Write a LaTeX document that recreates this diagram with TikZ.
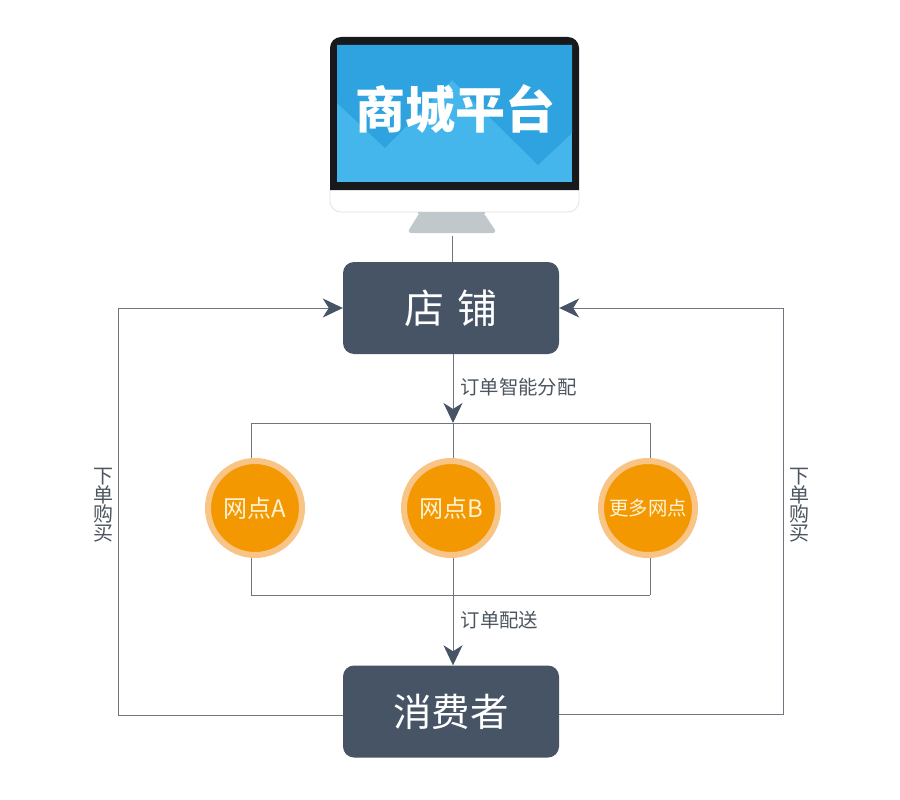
\documentclass[tikz,border=0pt]{standalone}
\usepackage{fontspec}
\setmainfont{Noto Sans CJK SC}
\usetikzlibrary{arrows.meta,positioning}
\definecolor{slate}{HTML}{465466}
\definecolor{wire}{HTML}{70767E}
\definecolor{ink}{HTML}{4C5560}
\definecolor{sitefill}{HTML}{F39800}
\definecolor{sitering}{HTML}{F8C586}
\definecolor{sitetext}{HTML}{FFF3D6}
\definecolor{screendark}{HTML}{2EA3E0}
\definecolor{screenlight}{HTML}{44B6EC}
\definecolor{bezel}{HTML}{17191C}
\definecolor{base}{HTML}{C0C8CC}

\begin{document}
\begin{tikzpicture}[x=1pt,y=-1pt,
    box/.style={rectangle, rounded corners=11pt, fill=slate, text=white, minimum width=216pt, minimum height=92pt, inner sep=0pt},
    site/.style={circle, fill=sitefill, draw=sitering, line width=6pt, minimum size=94pt, inner sep=0pt, text=sitetext, font=\fontsize{24}{24}\selectfont},
    wireline/.style={draw=wire, line width=1pt},
    flow/.style={wireline, -{Stealth[length=20pt,width=19pt,inset=6pt,color=slate]}},
    tag/.style={text=ink, font=\fontsize{19.4}{19.4}\selectfont, inner sep=0pt},
    sidetag/.style={text=ink, font=\fontsize{20}{19}\selectfont, align=center, inner sep=0pt}]

    \useasboundingbox (0,0) rectangle (900,800);
    \fill[white] (0,0) rectangle (900,800);

    \draw[black!12, line width=.7pt, rounded corners=11pt] (330,190) -- (330,212) -- (579,212) -- (579,190);
    \fill[bezel, rounded corners=11pt] (330,190) -- (330,37) -- (579,37) -- (579,190);
    \fill[screenlight] (337,45) rectangle (572,182);
    \fill[screendark] (337,45) -- (572,45) -- (572,133) -- (538,165) -- (452,80) -- (385,148) -- (337,103) -- cycle;
    \fill[base, rounded corners=4pt] (420,212) -- (483,212) -- (497,233) -- (407,233) -- cycle;
    \fill[base] (418,212) rectangle (485,214);

    \node (platform) at (455,109) {\fontsize{50}{50}\selectfont\bfseries\textcolor{white}{商城平台}};
    \coordinate (stand) at (452,236);

    \node[box, font=\fontsize{40}{40}\selectfont] (shop) at (451,308) {店\,\,铺};
    \node[box, font=\fontsize{38.5}{38.5}\selectfont] (consumer) at (451,711.5) {消费者};

    \node[site] (siteA) at (255,508) {网点A};
    \node[site] (siteB) at (451,508) {网点B};
    \node[site, font=\fontsize{19.4}{19.4}\selectfont] (siteC) at (648,508) {更多网点};

    \coordinate (topjoin) at (453,423);
    \coordinate (topleft) at (251,423);
    \coordinate (topright) at (650,423);
    \coordinate (lowjoin) at (453,595);
    \coordinate (lowleft) at (251,595);
    \coordinate (lowright) at (650,595);
    \coordinate (leftup) at (118,308);
    \coordinate (leftdown) at (118,715);
    \coordinate (rightup) at (783,308);
    \coordinate (rightdown) at (783,714);

    \draw[wireline] (stand) -- (stand |- shop.north);
    \draw[flow] (topjoin |- shop.south) -- (topjoin);
    \draw[wireline] (topleft) -- (topright);
    \draw[wireline] (topleft) -- (topleft |- siteA.north);
    \draw[wireline] (topjoin) -- (topjoin |- siteB.north);
    \draw[wireline] (topright) -- (topright |- siteC.north);
    \draw[wireline] (lowleft) -- (lowright);
    \draw[wireline] (lowleft) -- (lowleft |- siteA.south);
    \draw[wireline] (lowright) -- (lowright |- siteC.south);
    \draw[wireline] (lowjoin |- siteB.south) -- (lowjoin);
    \draw[flow] (lowjoin) -- (lowjoin |- consumer.north);
    \draw[flow] (consumer.west |- leftdown) -- (leftdown) -- (leftup) -- (shop.west);
    \draw[flow] (consumer.east |- rightdown) -- (rightdown) -- (rightup) -- (shop.east);

    \node[tag] (assign) at (518.5,387) {订单智能分配};
    \node[tag] (deliver) at (499.5,620) {订单配送};
    \node[sidetag] (buyL) at (103,505) {下\\单\\购\\买};
    \node[sidetag] (buyR) at (799,505) {下\\单\\购\\买};
\end{tikzpicture}
\end{document}
